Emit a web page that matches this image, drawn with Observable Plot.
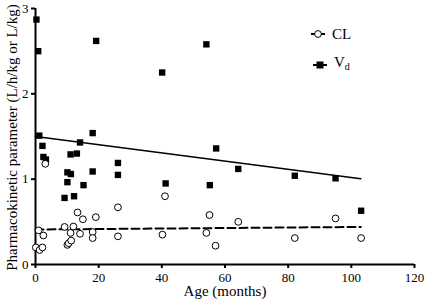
<!DOCTYPE html>
<html><head><meta charset="utf-8">
<script src="https://cdn.jsdelivr.net/npm/d3@7"></script>
<script src="https://cdn.jsdelivr.net/npm/@observablehq/plot@0.6"></script>
<style>
body{margin:0;background:#fff}
#chart{position:relative;width:425px;height:302px;font-family:"Liberation Serif",serif;color:#000}
.leg{position:absolute;display:flex;align-items:center;font-size:14px;line-height:14px}
.leg svg{margin-right:6px}
</style>
</head><body><div id="chart"></div>
<script>
// Vd (L/kg) by age (months)
const vdAge = [0.3, 0.85, 1.2, 2.2, 2.5, 3.3, 9.2, 10.1, 10.1, 11.1, 11.2, 12.2, 13.1, 14.1, 15.2, 18.1, 18.1, 19.2, 26.1, 26.1, 40.1, 41.2, 54.1, 55.2, 57.2, 64.2, 82.1, 95.0, 103.1];
const vdVal = [2.87, 2.50, 1.51, 1.39, 1.26, 1.23, 0.78, 1.08, 0.965, 1.29, 1.06, 0.80, 1.30, 1.43, 0.93, 1.09, 1.54, 2.62, 1.19, 1.05, 2.25, 0.95, 2.58, 0.93, 1.36, 1.12, 1.04, 1.01, 0.63];
// CL (L/h/kg) by age (months)
const clAge = [0.1, 1.0, 1.3, 2.2, 2.5, 3.1, 9.2, 10.1, 10.5, 11.1, 11.3, 12.0, 13.3, 14.1, 15.0, 18.1, 18.1, 19.1, 26.1, 26.1, 40.2, 41.0, 54.1, 55.1, 57.0, 64.2, 82.1, 95.0, 103.1];
const clVal = [0.20, 0.40, 0.17, 0.20, 0.34, 1.18, 0.44, 0.23, 0.25, 0.37, 0.28, 0.445, 0.61, 0.36, 0.53, 0.38, 0.31, 0.555, 0.67, 0.33, 0.35, 0.80, 0.37, 0.58, 0.22, 0.50, 0.31, 0.54, 0.31];
// fitted regression lines (endpoints)
const fitAge = [0, 103];
const vdFit = [1.50, 1.005];
const clFit = [0.41, 0.44];
const xTicks = [0, 20, 40, 60, 80, 100, 120];
const yTicks = [0, 1, 2, 3];
const xLabel = "Age (months)";
const yLabel = "Pharmacokinetic parameter (L/h/kg or L/kg)";

const vd = vdAge.map((a, i) => ({age: a, v: vdVal[i]}));
const cl = clAge.map((a, i) => ({age: a, v: clVal[i]}));
const vdLine = fitAge.map((a, i) => ({age: a, v: vdFit[i]}));
const clLine = fitAge.map((a, i) => ({age: a, v: clFit[i]}));

const chart = Plot.plot({
  width: 425, height: 302,
  marginLeft: 35, marginRight: 11, marginTop: 8, marginBottom: 38,
  style: {fontFamily: '"Liberation Serif", serif', fontSize: "13px", color: "#000", background: "#fff"},
  x: {domain: [0, 120]},
  y: {domain: [0, 3]},
  marks: [
    Plot.axisX({ticks: xTicks, tickSize: 4, tickPadding: 4, tickFormat: d => d, label: null, fontSize: 13, strokeWidth: 2}),
    Plot.axisY({ticks: yTicks, tickSize: 4, tickPadding: 3, tickFormat: d => d, label: null, fontSize: 13, strokeWidth: 2}),
    Plot.text([xLabel], {text: d => d, frameAnchor: "bottom", textAnchor: "middle", lineAnchor: "middle", dy: 27, fontSize: 15}),
    Plot.text([yLabel], {text: d => d, frameAnchor: "left", textAnchor: "middle", lineAnchor: "middle", rotate: -90, dx: -23, dy: 1, fontSize: 15}),
    Plot.ruleX([0], {strokeWidth: 2}),
    Plot.ruleY([0], {strokeWidth: 2}),
    Plot.line(vdLine, {x: "age", y: "v", stroke: "#000", strokeWidth: 1.6}),
    Plot.line(clLine, {x: "age", y: "v", stroke: "#000", strokeWidth: 2, strokeDasharray: "8,4"}),
    Plot.dot(vd, {x: "age", y: "v", symbol: "square", r: 3.6, fill: "#000", stroke: "none"}),
    Plot.dot(cl, {x: "age", y: "v", symbol: "circle", r: 3.4, fill: "#fff", stroke: "#000", strokeWidth: 1})
  ]
});
const root = document.getElementById("chart");
root.appendChild(chart);
// legend
const legCL = document.createElement("div");
legCL.className = "leg";
legCL.style.left = "310px"; legCL.style.top = "27px";
legCL.innerHTML = '<svg width="16" height="14"><line x1="1" x2="15" y1="7" y2="7" stroke="#000" stroke-width="2" stroke-dasharray="6,2"/><circle cx="8" cy="7" r="3.4" fill="#fff" stroke="#000"/></svg><span style="font-size:15px">CL</span>';
root.appendChild(legCL);
const legVd = document.createElement("div");
legVd.className = "leg";
legVd.style.left = "312px"; legVd.style.top = "55px";
legVd.innerHTML = '<svg width="16" height="14"><line x1="1" x2="15" y1="7" y2="7" stroke="#000" stroke-width="2"/><rect x="4.5" y="3.5" width="7" height="7" fill="#000"/></svg><span style="font-size:15px">V<sub style="font-size:10px;vertical-align:-3px">d</sub></span>';
root.appendChild(legVd);
</script>
</body></html>
